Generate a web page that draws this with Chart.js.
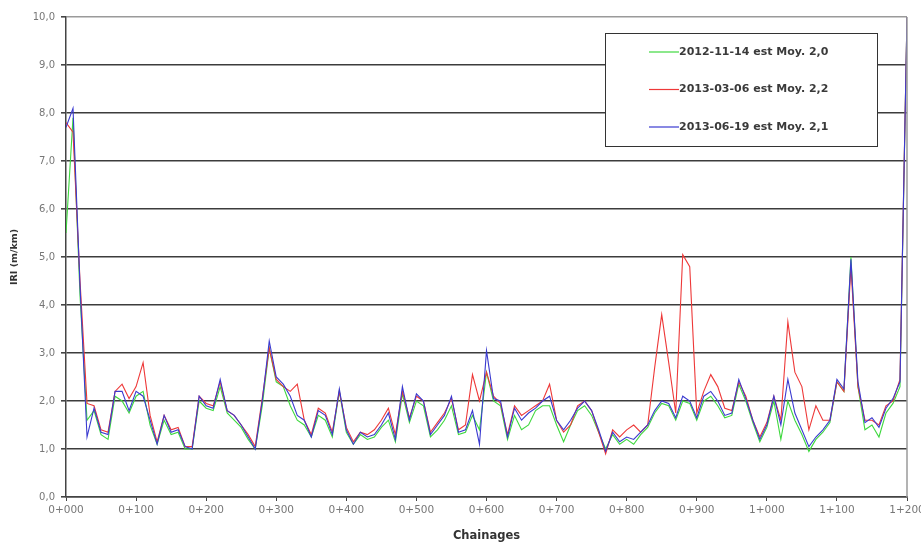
<!DOCTYPE html>
<html>
<head>
<meta charset="utf-8">
<script src="https://cdn.jsdelivr.net/npm/chart.js@4.4.1/dist/chart.umd.min.js"></script>
<style>
    body { margin: 0; background: #fff; }
    #wrap { width: 921px; height: 546px; }
</style>
</head>
<body>
<div id="wrap"><canvas id="chart" width="921" height="546"></canvas></div>
<script>
// chainage in metres (every 10 m)
const chainages = [
    0, 10, 20, 30, 40, 50, 60, 70, 80, 90,
    100, 110, 120, 130, 140, 150, 160, 170, 180, 190,
    200, 210, 220, 230, 240, 250, 260, 270, 280, 290,
    300, 310, 320, 330, 340, 350, 360, 370, 380, 390,
    400, 410, 420, 430, 440, 450, 460, 470, 480, 490,
    500, 510, 520, 530, 540, 550, 560, 570, 580, 590,
    600, 610, 620, 630, 640, 650, 660, 670, 680, 690,
    700, 710, 720, 730, 740, 750, 760, 770, 780, 790,
    800, 810, 820, 830, 840, 850, 860, 870, 880, 890,
    900, 910, 920, 930, 940, 950, 960, 970, 980, 990,
    1000, 1010, 1020, 1030, 1040, 1050, 1060, 1070, 1080, 1090,
    1100, 1110, 1120, 1130, 1140, 1150, 1160, 1170, 1180, 1190,
    1200
];

const xTickLabels = ["0+000", "0+100", "0+200", "0+300", "0+400", "0+500", "0+600",
    "0+700", "0+800", "0+900", "1+000", "1+100", "1+200"];
const yTickLabels = ["0,0", "1,0", "2,0", "3,0", "4,0", "5,0", "6,0", "7,0", "8,0", "9,0", "10,0"];

const seriesNames = ["2012-11-14 est Moy. 2,0", "2013-03-06 est Moy. 2,2", "2013-06-19 est Moy. 2,1"];
const seriesColors = ["#3ed83e", "#ee3838", "#3a3ad0"];

const iri20121114 = [
    5.5, 7.9, 4.2, 1.6, 1.8, 1.3, 1.2, 2.1, 2.0, 1.75,
    2.1, 2.2, 1.5, 1.1, 1.6, 1.3, 1.35, 1.0, 1.0, 2.0,
    1.85, 1.8, 2.3, 1.75, 1.6, 1.45, 1.2, 1.0, 1.9, 3.1,
    2.4, 2.3, 1.9, 1.6, 1.5, 1.25, 1.7, 1.6, 1.25, 2.2,
    1.35, 1.1, 1.3, 1.2, 1.25, 1.45, 1.6, 1.15, 2.15, 1.55,
    2.0, 1.9, 1.25, 1.4, 1.6, 1.9, 1.3, 1.35, 1.7, 1.4,
    2.6, 2.0, 1.9, 1.2, 1.7, 1.4, 1.5, 1.8, 1.9, 1.9,
    1.5, 1.15, 1.5, 1.8, 1.9, 1.7, 1.35, 1.0, 1.3, 1.1,
    1.2, 1.1, 1.3, 1.45, 1.75, 1.95, 1.9, 1.6, 2.0, 1.95,
    1.6, 2.0, 2.1, 1.9, 1.65, 1.7, 2.35, 2.0, 1.55, 1.15,
    1.45, 2.0, 1.2, 2.0, 1.6, 1.3, 0.95, 1.2, 1.35, 1.55,
    2.4, 2.2, 5.0, 2.3, 1.4, 1.5, 1.25, 1.75, 1.95, 2.3,
    10.0
];

const iri20130306 = [
    7.8, 7.6, 4.5, 1.95, 1.9, 1.4, 1.35, 2.2, 2.35, 2.05,
    2.3, 2.8, 1.7, 1.15, 1.7, 1.4, 1.45, 1.05, 1.05, 2.1,
    1.95, 1.9, 2.4, 1.8, 1.7, 1.5, 1.3, 1.05, 2.05, 3.1,
    2.45, 2.3, 2.2, 2.35, 1.6, 1.3, 1.85, 1.75, 1.35, 2.2,
    1.45, 1.15, 1.35, 1.3, 1.4, 1.6, 1.85, 1.3, 2.2, 1.65,
    2.1, 2.0, 1.35, 1.55, 1.75, 2.05, 1.4, 1.5, 2.55, 2.0,
    2.6, 2.1, 1.95, 1.3, 1.9, 1.7, 1.8, 1.9, 2.0, 2.35,
    1.6, 1.35, 1.5, 1.9, 2.0, 1.8, 1.35, 0.9, 1.4, 1.25,
    1.4, 1.5, 1.35, 1.5, 2.7, 3.8, 2.8, 1.75, 5.05, 4.8,
    1.75, 2.2, 2.55, 2.3, 1.85, 1.8, 2.4, 2.1, 1.6, 1.25,
    1.55, 2.1, 1.6, 3.65, 2.6, 2.3, 1.4, 1.9, 1.6, 1.6,
    2.4, 2.2, 4.8, 2.3, 1.6, 1.6, 1.5, 1.9, 2.0, 2.45,
    10.0
];

const iri20130619 = [
    7.7, 8.1, 4.4, 1.25, 1.85, 1.35, 1.3, 2.2, 2.2, 1.8,
    2.2, 2.1, 1.6, 1.1, 1.7, 1.35, 1.4, 1.05, 1.0, 2.1,
    1.9, 1.85, 2.45, 1.8, 1.7, 1.5, 1.25, 1.0, 2.0, 3.25,
    2.5, 2.35, 2.1, 1.7, 1.6, 1.25, 1.8, 1.7, 1.3, 2.25,
    1.4, 1.1, 1.35, 1.25, 1.3, 1.5, 1.75, 1.2, 2.3, 1.6,
    2.15, 2.0, 1.3, 1.5, 1.7, 2.1, 1.35, 1.4, 1.8, 1.1,
    3.05, 2.05, 2.0, 1.25, 1.85, 1.6, 1.75, 1.85, 2.0, 2.1,
    1.6, 1.4, 1.6, 1.85, 2.0, 1.8, 1.4, 0.95, 1.35, 1.15,
    1.25, 1.2, 1.35, 1.5, 1.8, 2.0, 1.95, 1.65, 2.1, 2.0,
    1.65, 2.1, 2.2, 2.0, 1.7, 1.75, 2.45, 2.05, 1.6, 1.2,
    1.5, 2.1, 1.5, 2.45, 1.75, 1.4, 1.05, 1.25, 1.4, 1.6,
    2.45, 2.25, 4.95, 2.4, 1.55, 1.65, 1.45, 1.85, 2.05, 2.4,
    10.0
];

const seriesValues = [iri20121114, iri20130306, iri20130619];

function toPoints(values) {
    return chainages.map((c, i) => ({ x: c, y: values[i] }));
}

const FONT = "'DejaVu Sans', Verdana, sans-serif";

// frame on the right and the boxed legend top right
const frameAndLegend = {
    id: "frameAndLegend",
    afterDatasetsDraw(chart) {
        const { ctx, chartArea } = chart;
        ctx.save();
        ctx.strokeStyle = "#9a9a9a";
        ctx.lineWidth = 1.5;
        ctx.beginPath();
        ctx.moveTo(chartArea.right, chartArea.top);
        ctx.lineTo(chartArea.right, chartArea.bottom);
        ctx.stroke();
        ctx.restore();
    },
    afterDraw(chart) {
        const { ctx } = chart;
        const box = { x: 605.5, y: 33.5, w: 272, h: 113 };
        ctx.save();
        ctx.fillStyle = "#fff";
        ctx.fillRect(box.x, box.y, box.w, box.h);
        ctx.strokeStyle = "#333";
        ctx.lineWidth = 1;
        ctx.strokeRect(box.x, box.y, box.w, box.h);
        ctx.font = "bold 11px " + FONT;
        ctx.textBaseline = "middle";
        ctx.fillStyle = "#3a3a3a";
        chart.data.datasets.forEach((ds, i) => {
            const y = 52 + i * 37.5;
            ctx.strokeStyle = ds.borderColor;
            ctx.lineWidth = 1.2;
            ctx.beginPath();
            ctx.moveTo(649, y);
            ctx.lineTo(679, y);
            ctx.stroke();
            ctx.fillText(ds.label, 679, y);
        });
        ctx.restore();
    }
};

const ctx = document.getElementById("chart").getContext("2d");
new Chart(ctx, {
    type: "line",
    data: {
        datasets: seriesValues.map((vals, i) => ({
            label: seriesNames[i],
            data: toPoints(vals),
            borderColor: seriesColors[i],
            borderWidth: 1.1,
            pointRadius: 0,
            fill: false,
            tension: 0,
            order: seriesValues.length - i
        }))
    },
    options: {
        responsive: false,
        animation: false,
        events: [],
        layout: { padding: { left: 0, right: 14, top: 17, bottom: 0 } },
        plugins: {
            legend: { display: false },
            tooltip: { enabled: false }
        },
        scales: {
            x: {
                type: "linear",
                min: 0,
                max: 1200,
                afterFit: (scale) => {
                    scale.height = 49;
                    scale.paddingLeft = 0;
                    scale.paddingRight = 0;
                },
                afterBuildTicks: (scale) => {
                    scale.ticks = xTickLabels.map((_, i) => ({ value: i * 100 }));
                },
                ticks: {
                    autoSkip: false,
                    maxRotation: 0,
                    padding: 3,
                    color: "#777",
                    font: { family: FONT, size: 10.5 },
                    callback: (v) => xTickLabels[Math.round(v / 100)]
                },
                grid: { drawOnChartArea: false, drawTicks: true, tickLength: 4, color: "#444" },
                border: { color: "#444", width: 1.5 },
                title: {
                    display: true,
                    text: "Chainages",
                    color: "#333",
                    font: { family: FONT, size: 11.5, weight: "bold" },
                    padding: { top: 3, bottom: 3 }
                }
            },
            y: {
                min: 0,
                max: 10,
                afterFit: (scale) => { scale.width = 66; },
                ticks: {
                    stepSize: 1,
                    padding: 6,
                    color: "#777",
                    font: { family: FONT, size: 10 },
                    callback: (v) => yTickLabels[Math.round(v)]
                },
                grid: {
                    color: (c) => (c.tick && c.tick.value === 10 ? "#9a9a9a" : "#3c3c3c"),
                    lineWidth: 1.6,
                    tickLength: 5,
                    tickColor: "#444"
                },
                border: { color: "#444", width: 1.5 },
                title: {
                    display: true,
                    text: "IRI (m/km)",
                    color: "#333",
                    font: { family: FONT, size: 9.5, weight: "bold" },
                    padding: { top: 9, bottom: 0 }
                }
            }
        }
    },
    plugins: [frameAndLegend]
});
</script>
</body>
</html>
